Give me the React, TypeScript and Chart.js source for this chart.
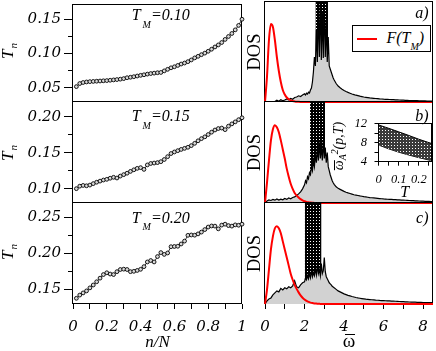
import React, { useEffect, useRef } from 'react';
import { Chart, registerables } from 'chart.js';

Chart.register(...registerables);

const W = 436;
const H = 351;
const FONT_D = "'DejaVu Serif', 'Liberation Serif', serif";
const FONT_T = "'Liberation Serif', 'Times New Roman', serif";

// ---------------- left panels: T_n versus n/N ----------------
const N_OVER_N = [0.02, 0.04, 0.06, 0.08, 0.1, 0.12, 0.14, 0.16, 0.18, 0.2,
  0.22, 0.24, 0.26, 0.28, 0.3, 0.32, 0.34, 0.36, 0.38, 0.4,
  0.42, 0.44, 0.46, 0.48, 0.5, 0.52, 0.54, 0.56, 0.58, 0.6,
  0.62, 0.64, 0.66, 0.68, 0.7, 0.72, 0.74, 0.76, 0.78, 0.8,
  0.82, 0.84, 0.86, 0.88, 0.9, 0.92, 0.94, 0.96, 0.98, 1.0];
const TN_010 = [0.0515, 0.056, 0.0575, 0.0583, 0.0588, 0.0591, 0.0594, 0.0597, 0.06, 0.0603,
  0.0608, 0.0613, 0.0618, 0.0624, 0.0632, 0.0645, 0.0652, 0.066, 0.067, 0.068,
  0.0688, 0.0698, 0.0706, 0.0712, 0.0718, 0.0722, 0.0745, 0.0768, 0.079, 0.0805,
  0.0825, 0.0845, 0.086, 0.088, 0.0905, 0.0935, 0.0958, 0.0982, 0.1005, 0.1032,
  0.1062, 0.1095, 0.1125, 0.116, 0.1205, 0.1248, 0.1292, 0.1345, 0.141, 0.15];
const TN_015 = [0.1, 0.1035, 0.1045, 0.104, 0.105, 0.107, 0.109, 0.1105, 0.112, 0.113,
  0.1145, 0.1158, 0.1148, 0.1175, 0.1195, 0.1215, 0.124, 0.1262, 0.1282, 0.1292,
  0.1268, 0.133, 0.135, 0.1356, 0.1362, 0.1375, 0.1405, 0.1445, 0.1488, 0.151,
  0.1528, 0.1545, 0.156, 0.1575, 0.1598, 0.163, 0.1665, 0.1695, 0.172, 0.1752,
  0.1785, 0.1815, 0.1835, 0.1842, 0.182, 0.1868, 0.19, 0.1928, 0.1958, 0.1985];
const TN_020 = [0.1375, 0.142, 0.145, 0.1478, 0.152, 0.156, 0.1605, 0.1655, 0.1705, 0.173,
  0.1712, 0.1705, 0.1745, 0.1775, 0.178, 0.1775, 0.1745, 0.175, 0.1762, 0.1778,
  0.1815, 0.188, 0.19, 0.188, 0.1955, 0.201, 0.1985, 0.2005, 0.2092, 0.2095,
  0.2098, 0.213, 0.217, 0.225, 0.2255, 0.2252, 0.227, 0.2295, 0.233, 0.2365,
  0.238, 0.2378, 0.234, 0.2392, 0.2405, 0.2385, 0.2378, 0.2395, 0.239, 0.2405];
const T_M = [0.1, 0.15, 0.2];

const LEFT_X_TICKS = [0, 0.1, 0.2, 0.3, 0.4, 0.5, 0.6, 0.7, 0.8, 0.9, 1];
const LEFT_X_LABELS = ['0', '', '0.2', '', '0.4', '', '0.6', '', '0.8', '', '1'];
const Y_TICKS_010 = [0.05, 0.1, 0.15];
const Y_LABELS_010 = ['0.05', '0.10', '0.15'];
const Y_MINOR_010 = [0.075, 0.125];
const Y_TICKS_015 = [0.1, 0.15, 0.2];
const Y_LABELS_015 = ['0.10', '0.15', '0.20'];
const Y_MINOR_015 = [0.125, 0.175];
const Y_TICKS_020 = [0.15, 0.2, 0.25];
const Y_LABELS_020 = ['0.15', '0.20', '0.25'];
const Y_MINOR_020 = [0.175, 0.225];

// ---------------- right panels: DOS versus omega ----------------
const OMEGA = [0, 0.1, 0.2, 0.3, 0.4, 0.5, 0.6, 0.7, 0.8, 0.9,
  1.0, 1.1, 1.2, 1.3, 1.4, 1.5, 1.6, 1.7, 1.8, 1.9,
  2.0, 2.05, 2.1, 2.15, 2.2, 2.25, 2.3, 2.35, 2.4, 2.45,
  2.5, 2.55, 2.6, 2.65, 2.7, 2.75, 2.8, 2.85, 2.9, 2.95,
  3.0, 3.05, 3.1, 3.15, 3.2, 3.25, 3.3, 3.35, 3.4, 3.45, 3.5,
  3.6, 3.7, 3.8, 3.9,
  4.0, 4.1, 4.2, 4.3, 4.4, 4.5, 4.6, 4.7, 4.8, 4.9,
  5.0, 5.1, 5.2, 5.3, 5.4, 5.5, 5.6, 5.7, 5.8, 5.9,
  6.0, 6.1, 6.2, 6.3, 6.4, 6.5, 6.6, 6.7, 6.8, 6.9,
  7.0, 7.1, 7.2, 7.3, 7.4, 7.5, 7.6, 7.7, 7.8, 7.9,
  8.0, 8.1, 8.2, 8.3, 8.4, 8.5];
const DOS_A = [0, 0, 0, 0, 0, 0.004, 0.018, 0.008, 0.022, 0.012,
  0.02, 0.03, 0.022, 0.036, 0.028, 0.045, 0.05, 0.062, 0.055, 0.07,
  0.082, 0.07, 0.088, 0.08, 0.098, 0.09, 0.12, 0.14, 0.2, 0.3,
  0.45, 0.36, 0.72, 0.4, 0.95, 0.45, 1.05, 0.42, 0.9, 0.44,
  1.02, 0.45, 0.8, 0.4, 0.65, 0.36, 0.33, 0.3, 0.27, 0.24, 0.22,
  0.185, 0.16, 0.142, 0.128,
  0.115, 0.105, 0.096, 0.088, 0.08, 0.074, 0.068, 0.063, 0.058, 0.054,
  0.05, 0.047, 0.044, 0.041, 0.039, 0.037, 0.035, 0.033, 0.031, 0.03,
  0.028, 0.027, 0.026, 0.025, 0.024, 0.023, 0.022, 0.021, 0.02, 0.019,
  0.018, 0.017, 0.016, 0.015, 0.015, 0.014, 0.013, 0.013, 0.012, 0.012,
  0.011, 0.011, 0.01, 0.01, 0.009, 0.009];
const DOS_B = [0, 0.02, 0.03, 0.025, 0.035, 0.028, 0.04, 0.03, 0.038, 0.032,
  0.045, 0.036, 0.05, 0.042, 0.055, 0.06, 0.075, 0.09, 0.11, 0.14,
  0.18, 0.22, 0.2, 0.26, 0.24, 0.3, 0.28, 0.36, 0.32, 0.42,
  0.36, 0.48, 0.4, 0.55, 0.42, 0.6, 0.44, 0.56, 0.42, 0.62,
  0.44, 0.55, 0.4, 0.5, 0.36, 0.32, 0.28, 0.25, 0.22, 0.2, 0.185,
  0.16, 0.145, 0.135, 0.125,
  0.115, 0.107, 0.1, 0.094, 0.088, 0.082, 0.078, 0.074, 0.07, 0.067,
  0.063, 0.06, 0.057, 0.054, 0.052, 0.05, 0.048, 0.046, 0.044, 0.042,
  0.04, 0.039, 0.037, 0.036, 0.035, 0.034, 0.033, 0.031, 0.03, 0.029,
  0.028, 0.027, 0.026, 0.025, 0.024, 0.023, 0.022, 0.021, 0.02, 0.019,
  0.018, 0.017, 0.017, 0.016, 0.015, 0.015];
const DOS_C = [0, 0.03, 0.05, 0.06, 0.09, 0.11, 0.13, 0.12, 0.155, 0.14,
  0.16, 0.15, 0.17, 0.16, 0.18, 0.23, 0.17, 0.16, 0.19, 0.21,
  0.22, 0.26, 0.24, 0.28, 0.25, 0.3, 0.26, 0.33, 0.27, 0.31,
  0.28, 0.35, 0.29, 0.38, 0.3, 0.34, 0.28, 0.4, 0.3, 0.33,
  0.46, 0.32, 0.27, 0.25, 0.23, 0.21, 0.2, 0.19, 0.175, 0.168, 0.16,
  0.145, 0.13, 0.12, 0.11,
  0.1, 0.093, 0.086, 0.08, 0.074, 0.069, 0.064, 0.06, 0.057, 0.054,
  0.051, 0.048, 0.046, 0.044, 0.042, 0.04, 0.038, 0.037, 0.035, 0.034,
  0.033, 0.032, 0.031, 0.03, 0.029, 0.028, 0.027, 0.026, 0.025, 0.024,
  0.023, 0.022, 0.021, 0.02, 0.019, 0.019, 0.018, 0.017, 0.017, 0.016,
  0.015, 0.015, 0.014, 0.014, 0.013, 0.013];

const F_OMEGA = [0, 0.1, 0.2, 0.3, 0.4, 0.5, 0.6, 0.7, 0.8, 0.9,
  1.0, 1.1, 1.2, 1.3, 1.4, 1.5, 1.6, 1.7, 1.8, 1.9,
  2.0, 2.1, 2.2, 2.3, 2.4, 2.5, 2.6, 2.7, 2.8, 2.9, 3.0, 8.5];
const F_010 = [0, 0.25, 0.62, 0.78, 0.75, 0.62, 0.45, 0.31, 0.2, 0.12,
  0.075, 0.045, 0.028, 0.017, 0.01, 0.006, 0.003, 0.002, 0.001, 0,
  0, 0, 0, 0, 0, 0, 0, 0, 0, 0, 0, 0];
const F_015 = [0, 0.2, 0.42, 0.62, 0.73, 0.77, 0.75, 0.7, 0.62, 0.53,
  0.44, 0.34, 0.26, 0.19, 0.14, 0.1, 0.075, 0.055, 0.038, 0.026,
  0.017, 0.011, 0.007, 0.004, 0.002, 0.001, 0, 0, 0, 0, 0, 0];
const F_020 = [0, 0.14, 0.34, 0.54, 0.67, 0.75, 0.77, 0.75, 0.7, 0.62,
  0.54, 0.46, 0.38, 0.3, 0.24, 0.19, 0.15, 0.115, 0.085, 0.062,
  0.044, 0.031, 0.021, 0.014, 0.009, 0.006, 0.004, 0.002, 0.001, 0, 0, 0];

const BAND_A = [2.55, 3.19];
const BAND_B = [2.28, 3.04];
const BAND_C = [2.01, 2.86];
const DOS_MAX = 1;

const OMEGA_TICKS = [0, 1, 2, 3, 4, 5, 6, 7, 8];
const OMEGA_LABELS = ['0', '', '2', '', '4', '', '6', '', '8'];

// ---------------- inset ----------------
const INSET_T = [0, 0.05, 0.1, 0.15, 0.2, 0.26];
const INSET_UPPER = [11.7, 11.0, 10.25, 9.5, 8.7, 7.85];
const INSET_LOWER = [7.5, 6.7, 6.0, 5.4, 4.85, 4.25];
const INSET_X_TICKS = [0, 0.05, 0.1, 0.15, 0.2, 0.25];
const INSET_X_LABELS = ['0', '', '0.1', '', '0.2', ''];
const INSET_Y_TICKS = [4, 6, 8, 10, 12];
const INSET_Y_LABELS = ['4', '', '8', '', '12'];

// ---------------- helpers ----------------
const zeroPad = (s: any) => {
  s.paddingLeft = 0; s.paddingRight = 0; s.paddingTop = 0; s.paddingBottom = 0;
};
const fixW = (w: number) => (s: any) => { s.width = w; zeroPad(s); };
const fixH = (h: number) => (s: any) => { s.height = h; zeroPad(s); };
const setTicks = (vals: number[]) => (s: any) => { s.ticks = vals.map((v) => ({ value: v })); };

const framePlugin = {
  id: 'frame',
  beforeDatasetsDraw(chart: any) {
    const { ctx, chartArea: a } = chart;
    ctx.save();
    ctx.strokeStyle = '#000';
    ctx.lineWidth = 1;
    ctx.strokeRect(Math.round(a.left) - 0.5, Math.round(a.top) - 0.5,
      Math.round(a.right - a.left), Math.round(a.bottom - a.top));
    ctx.restore();
  },
};
const whitePlugin = {
  id: 'whiteArea',
  beforeDraw(chart: any) {
    const { ctx, chartArea: a } = chart;
    ctx.save();
    ctx.fillStyle = '#fff';
    ctx.fillRect(a.left, a.top, a.right - a.left, a.bottom - a.top);
    ctx.restore();
  },
};

const BASE = {
  animation: false,
  responsive: false,
  maintainAspectRatio: false,
  devicePixelRatio: 1,
  events: [],
  plugins: { legend: { display: false }, tooltip: { enabled: false } },
};

function leftChart(values: number[], ymin: number, ymax: number, top: number, bottom: number,
  majors: number[], majorLabels: string[], minors: number[], showX: boolean) {
  const XH = showX ? 47 : 0;
  const YW = 60;
  return {
    type: 'line',
    data: {
      datasets: [{
        data: N_OVER_N.map((x, i) => ({ x, y: values[i] })),
        borderColor: '#000', borderWidth: 0.8,
        pointRadius: 1.9, pointBorderWidth: 0.9,
        pointBackgroundColor: '#d8d8d8', pointBorderColor: '#000',
        clip: false,
      }],
    },
    options: {
      ...BASE,
      layout: { padding: { left: 73 - YW, top, right: W - 242, bottom: H - bottom - XH } },
      scales: {
        x: {
          type: 'linear', bounds: 'data', min: 0, max: 1, display: showX,
          afterBuildTicks: setTicks(LEFT_X_TICKS), afterFit: fixH(XH),
          ticks: {
            autoSkip: false, maxRotation: 0, padding: 9, color: '#000',
            font: { family: FONT_D, size: 15, style: 'italic' },
            callback: (_v: any, i: number) => LEFT_X_LABELS[i],
          },
          grid: { drawOnChartArea: false, tickLength: 5, color: '#000' },
          border: { display: false },
          title: {
            display: true, text: 'n/N', color: '#000', padding: 0,
            font: { family: FONT_T, size: 17, style: 'italic', lineHeight: 1 },
          },
        },
        y: {
          type: 'linear', bounds: 'data', position: 'left', weight: 1, min: ymin, max: ymax,
          afterBuildTicks: setTicks(majors), afterFit: fixW(YW),
          ticks: {
            autoSkip: false, padding: 3, color: '#000',
            font: { family: FONT_D, size: 15, style: 'italic' },
            callback: (_v: any, i: number) => majorLabels[i],
          },
          grid: { drawOnChartArea: false, tickLength: 9, color: '#000' },
          border: { display: false },
        },
        y2: {
          type: 'linear', bounds: 'data', position: 'left', weight: 0, min: ymin, max: ymax,
          afterBuildTicks: setTicks(minors), afterFit: fixW(0),
          ticks: { autoSkip: false, padding: 0, callback: () => '' },
          grid: { drawOnChartArea: false, tickLength: 5, color: '#000' },
          border: { display: false },
        },
      },
    },
    plugins: [framePlugin],
  };
}

function dosChart(dos: number[], f: number[], band: number[], top: number, bottom: number,
  showX: boolean, hatch: any) {
  const XH = showX ? 47 : 0;
  const YW = 21;
  return {
    type: 'line',
    data: {
      datasets: [
        {
          data: F_OMEGA.map((x, i) => ({ x, y: f[i] })),
          borderColor: '#ff0000', borderWidth: 2, pointRadius: 0,
          cubicInterpolationMode: 'monotone', fill: false, order: 1, clip: false,
        },
        {
          data: OMEGA.map((x, i) => ({ x, y: dos[i] })),
          borderColor: '#000', borderWidth: 1.2, pointRadius: 0,
          backgroundColor: '#d2d2d2', fill: 'origin', order: 2,
        },
        {
          data: band.map((x) => ({ x, y: DOS_MAX })),
          borderWidth: 0, borderColor: 'rgba(0,0,0,0)', pointRadius: 0,
          backgroundColor: hatch, fill: 'origin', order: 3,
        },
      ],
    },
    options: {
      ...BASE,
      layout: { padding: { left: 265 - YW, top, right: W - 433, bottom: H - bottom - XH } },
      scales: {
        x: {
          type: 'linear', bounds: 'data', min: 0, max: 8.5, display: showX,
          afterBuildTicks: setTicks(OMEGA_TICKS), afterFit: fixH(XH),
          ticks: {
            autoSkip: false, maxRotation: 0, padding: 9, color: '#000',
            font: { family: FONT_D, size: 15, style: 'italic' },
            callback: (_v: any, i: number) => OMEGA_LABELS[i],
          },
          grid: { drawOnChartArea: false, tickLength: 5, color: '#000' },
          border: { display: false },
        },
        y: {
          type: 'linear', bounds: 'data', position: 'left', min: 0, max: DOS_MAX,
          afterFit: fixW(YW),
          ticks: { display: false },
          grid: { display: false },
          border: { display: false },
          title: {
            display: true, text: 'DOS', color: '#000', padding: 0,
            font: { family: FONT_T, size: 18.5 },
          },
        },
      },
    },
    plugins: [framePlugin],
  };
}

function insetChart(hatch: any) {
  const XH = 40.4;
  const YW = 30;
  const L = 378.5, T = 123.5, R = 431, B = 161.7;
  return {
    type: 'line',
    data: {
      datasets: [
        {
          data: INSET_T.map((x, i) => ({ x, y: INSET_UPPER[i] })),
          borderColor: '#000', borderWidth: 1, pointRadius: 0,
          backgroundColor: hatch, fill: '+1',
        },
        {
          data: INSET_T.map((x, i) => ({ x, y: INSET_LOWER[i] })),
          borderColor: '#000', borderWidth: 1, pointRadius: 0, fill: false,
        },
      ],
    },
    options: {
      ...BASE,
      layout: { padding: { left: L - YW, top: T, right: W - R, bottom: H - B - XH } },
      scales: {
        x: {
          type: 'linear', bounds: 'data', min: 0, max: 0.26,
          afterBuildTicks: setTicks(INSET_X_TICKS), afterFit: fixH(XH),
          ticks: {
            autoSkip: false, maxRotation: 0, padding: 6.8, color: '#000',
            font: { family: FONT_T, size: 12.5, style: 'italic' },
            callback: (_v: any, i: number) => INSET_X_LABELS[i],
          },
          grid: { drawOnChartArea: false, tickLength: 4, color: '#000' },
          border: { display: false },
          title: {
            display: true, text: 'T', color: '#000', padding: 0,
            font: { family: FONT_T, size: 16, style: 'italic' },
          },
        },
        y: {
          type: 'linear', bounds: 'data', position: 'left', min: 4, max: 12,
          afterBuildTicks: setTicks(INSET_Y_TICKS), afterFit: fixW(YW),
          ticks: {
            autoSkip: false, padding: 7.5, color: '#000',
            font: { family: FONT_T, size: 12.5, style: 'italic' },
            callback: (_v: any, i: number) => INSET_Y_LABELS[i],
          },
          grid: { drawOnChartArea: false, tickLength: 4, color: '#000' },
          border: { display: false },
        },
      },
    },
    plugins: [whitePlugin, framePlugin],
  };
}

function makeHatch(bg: string) {
  const c = document.createElement('canvas');
  c.width = 3; c.height = 3;
  const g = c.getContext('2d') as CanvasRenderingContext2D;
  g.fillStyle = bg;
  g.fillRect(0, 0, 3, 3);
  g.fillStyle = '#fff';
  g.fillRect(1, 1, 1, 1);
  return g.createPattern(c, 'repeat');
}

const abs = (extra: React.CSSProperties): React.CSSProperties => ({
  position: 'absolute', whiteSpace: 'nowrap', lineHeight: 1, color: '#000', ...extra,
});

export default function App() {
  const refs = useRef<(HTMLCanvasElement | null)[]>([]);

  useEffect(() => {
    const hatch = makeHatch('#000');
    const insetHatch = makeHatch('#3a3a3a');
    const cfgs: any[] = [
      leftChart(TN_010, 0.029, 0.171, 1, 102, Y_TICKS_010, Y_LABELS_010, Y_MINOR_010, false),
      leftChart(TN_015, 0.0801, 0.2204, 102, 203, Y_TICKS_015, Y_LABELS_015, Y_MINOR_015, false),
      leftChart(TN_020, 0.1296, 0.2699, 203, 304, Y_TICKS_020, Y_LABELS_020, Y_MINOR_020, true),
      dosChart(DOS_A, F_010, BAND_A, 2, 102, false, hatch),
      dosChart(DOS_B, F_015, BAND_B, 102, 203, false, hatch),
      dosChart(DOS_C, F_020, BAND_C, 203, 304, true, hatch),
      insetChart(insetHatch),
    ];
    const charts = cfgs.map((cfg, i) => new Chart(refs.current[i] as HTMLCanvasElement, cfg));
    return () => charts.forEach((c) => c.destroy());
  }, []);

  const tmTops = [7.3, 108.1, 209.6];
  const tnCenters = [51, 153, 252];
  const panelLabels = [['a)', 5.1], ['b)', 108.3], ['c)', 209.9]] as const;

  return (
    <div style={{ position: 'absolute', left: 0, top: 0, width: W, height: H, background: '#fff', overflow: 'hidden' }}>
      {[0, 1, 2, 3, 4, 5, 6].map((i) => (
        <canvas
          key={i}
          ref={(el) => { refs.current[i] = el; }}
          width={W}
          height={H}
          style={{ position: 'absolute', left: 0, top: 0, width: W, height: H }}
        />
      ))}

      {/* T_n axis titles */}
      {tnCenters.map((cy) => (
        <div key={'tn' + cy} style={abs({
          left: 7.3, top: cy, transform: 'translate(-50%,-50%) rotate(-90deg)',
          fontFamily: FONT_T, fontStyle: 'italic', fontSize: 17,
        })}>
          T<span style={{ fontSize: '0.65em', position: 'relative', top: '0.35em', marginLeft: 1 }}>n</span>
        </div>
      ))}

      {/* T_M labels */}
      {T_M.map((v, i) => (
        <div key={'tm' + i} style={abs({
          left: 131.7, top: tmTops[i], fontFamily: FONT_T, fontStyle: 'italic', fontSize: 16,
        })}>
          T<span style={{ fontSize: 10, position: 'relative', top: 7.6, marginLeft: 2 }}>M</span>={v.toFixed(2)}
        </div>
      ))}

      {/* panel labels */}
      {panelLabels.map(([t, top]) => (
        <div key={t} style={abs({ right: W - 428.5, top, fontFamily: FONT_T, fontStyle: 'italic', fontSize: 16 })}>{t}</div>
      ))}

      {/* legend of panel a) */}
      <div style={{ position: 'absolute', left: 351.5, top: 25, width: 79, height: 27, border: '1px solid #000', boxSizing: 'border-box', background: '#fff' }} />
      <div style={{ position: 'absolute', left: 357, top: 38, width: 20, height: 2, background: '#ff0000' }} />
      <div style={abs({ left: 386.5, top: 29.9, fontFamily: FONT_T, fontStyle: 'italic', fontSize: 16 })}>
        F(T<span style={{ fontSize: 10, position: 'relative', top: 6.7 }}>M</span>)
      </div>

      {/* omega-bar axis title */}
      <div style={abs({ left: 349, top: 330.6, transform: 'translateX(-50%)', fontFamily: FONT_T, fontSize: 19 })}>ω</div>
      <div style={{ position: 'absolute', left: 344.5, top: 333.5, width: 10.5, height: 1.2, background: '#000' }} />

      {/* inset y title */}
      <div style={abs({
        left: 339, top: 146, transform: 'translate(-50%,-50%) rotate(-90deg)',
        fontFamily: FONT_T, fontStyle: 'italic', fontSize: 14,
      })}>
        <span style={{ position: 'relative', display: 'inline-block' }}>
          ω
          <span style={{ position: 'absolute', left: 0, right: 0, top: '0.12em', height: 1, background: '#000' }} />
        </span>
        <span style={{ fontSize: '0.7em', position: 'relative', top: '0.3em' }}>A</span>
        <span style={{ fontSize: '0.7em', position: 'relative', top: '-0.5em' }}>2</span>
        (p,T)
      </div>
    </div>
  );
}
